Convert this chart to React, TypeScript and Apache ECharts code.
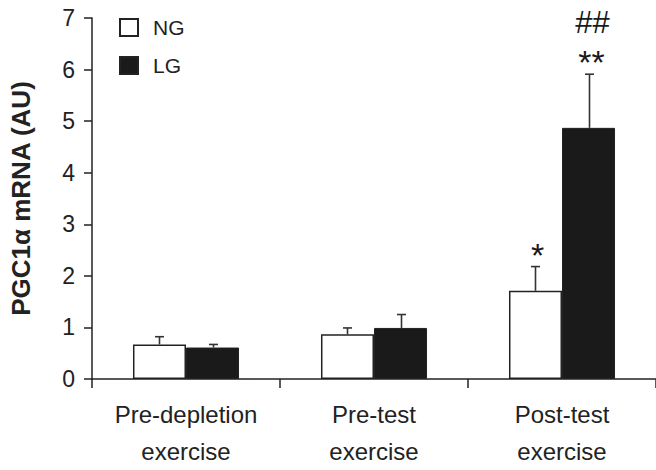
import React, { useEffect, useRef } from "react";
import * as echarts from "echarts";

const categories = ["Pre-depletion\nexercise", "Pre-test\nexercise", "Post-test\nexercise"];
const ngMean = [0.67, 0.87, 1.71];
const ngErr = [0.15, 0.12, 0.47];
const lgMean = [0.61, 0.99, 4.87];
const lgErr = [0.06, 0.26, 1.04];
const ngSig = ["", "", "*"];
const lgSig = ["", "", "**"];
const lgSig2 = ["", "", "##"];
const yTicks = [0, 1, 2, 3, 4, 5, 6, 7];

const FONT = "Liberation Sans, Arial, Helvetica, sans-serif";
const INK = "#1a1a1a";

export default function App() {
  const ref = useRef<HTMLDivElement>(null);
  useEffect(() => {
    if (!ref.current) return;
    const chart = echarts.init(ref.current, undefined, { renderer: "svg" });
    const BAR_FRAC = 0.282;

    const errSeries = (mean: number[], err: number[], sign: number, sig: string[], sig2?: string[]) => ({
      type: "custom",
      xAxisIndex: 0,
      yAxisIndex: 0,
      z: 5,
      silent: true,
      clip: false,
      data: mean.map((m, i) => [i, m, err[i]]),
      renderItem: (params: any, api: any) => {
        const idx = api.value(0);
        const m = api.value(1);
        const e = api.value(2);
        const band = api.size([1, 0])[0];
        const x = Math.round(api.coord([idx, 0])[0] + sign * band * BAR_FRAC / 2) + 0.5;
        const yBar = api.coord([idx, m])[1];
        const yErr = api.coord([idx, m + e])[1];
        const children: any[] = [
          { type: "line", shape: { x1: x, y1: yBar, x2: x, y2: yErr }, style: { stroke: "#333", lineWidth: 1.6 } },
          { type: "line", shape: { x1: x - 4.5, y1: yErr, x2: x + 4.5, y2: yErr }, style: { stroke: "#333", lineWidth: 1.6 } },
        ];
        const s = sig[params.dataIndex];
        if (s) {
          children.push({
            type: "text",
            style: { text: s, x: x + 2, y: yErr - 12, align: "center", verticalAlign: "middle", fontSize: 34, fontFamily: FONT, fill: INK },
          });
        }
        const s2 = sig2 ? sig2[params.dataIndex] : "";
        if (s2) {
          children.push({
            type: "text",
            style: { text: s2, x: x + 3, y: yErr - 52, align: "center", verticalAlign: "middle", fontSize: 31, fontFamily: FONT, fill: INK },
          });
        }
        return { type: "group", children };
      },
    });

    chart.setOption({
      animation: false,
      backgroundColor: "#fff",
      grid: { left: 89, top: 18, width: 579, height: 368, containLabel: false },
      legend: {
        orient: "vertical",
        left: 119,
        top: 17,
        padding: 0,
        itemWidth: 18,
        itemHeight: 17,
        itemGap: 17,
        textStyle: { fontSize: 21, lineHeight: 17, fontFamily: FONT, color: "#222", padding: [0, 0, 0, 10] },
        data: [
          { name: "NG", icon: "rect" },
          { name: "LG", icon: "rect" },
        ],
      },
      xAxis: {
        type: "category",
        data: categories,
        axisLine: { lineStyle: { color: "#222", width: 1.5 } },
        axisTick: { show: true, length: 9, lineStyle: { color: "#222", width: 1.5 } },
        axisLabel: { fontSize: 24, fontFamily: FONT, color: "#222", lineHeight: 37, margin: 17 },
      },
      yAxis: {
        type: "value",
        min: 0,
        max: 7,
        interval: 1,
        name: "PGC1α mRNA (AU)",
        nameLocation: "middle",
        nameGap: 58,
        nameTextStyle: { fontSize: 26, fontWeight: "bold", fontFamily: FONT, color: "#222" },
        axisLine: { show: true, lineStyle: { color: "#222", width: 1.5 } },
        axisTick: { show: true, length: 8, lineStyle: { color: "#222", width: 1.5 } },
        splitLine: { show: false },
        axisLabel: {
          fontSize: 23,
          fontFamily: FONT,
          color: "#222",
          margin: 17,
          formatter: (v: number) => (yTicks.includes(v) ? String(v) : ""),
        },
      },
      series: [
        {
          name: "NG",
          type: "bar",
          data: ngMean,
          barWidth: "28.2%",
          barGap: "0%",
          itemStyle: { color: "#fff", borderColor: "#222", borderWidth: 1.5 },
        },
        {
          name: "LG",
          type: "bar",
          data: lgMean,
          barWidth: "28.2%",
          barGap: "0%",
          itemStyle: { color: INK, borderColor: "#222", borderWidth: 1 },
        },
        errSeries(ngMean, ngErr, -1, ngSig),
        errSeries(lgMean, lgErr, 1, lgSig, lgSig2),
      ],
    });
    return () => chart.dispose();
  }, []);
  return <div ref={ref} style={{ width: 656, height: 470, position: "absolute", left: 0, top: 0 }} />;
}
